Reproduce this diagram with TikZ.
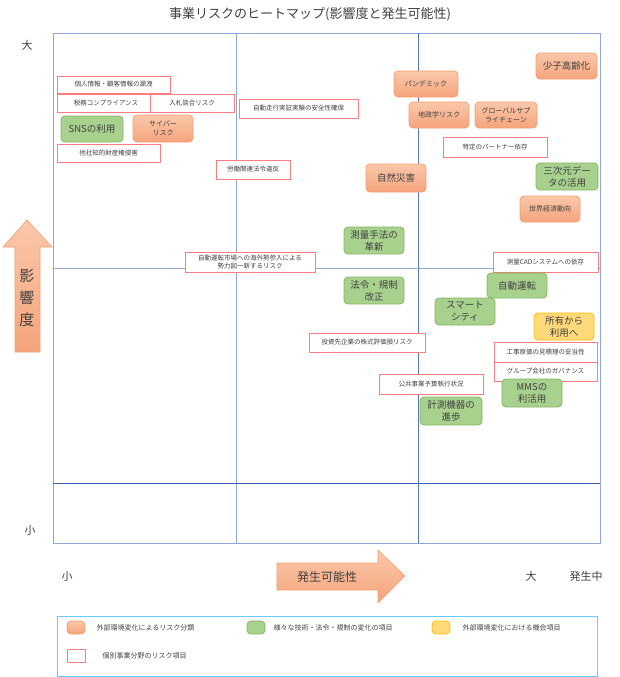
\documentclass[tikz,border=0pt]{standalone}
\usepackage{fontspec}
\setmainfont{Noto Sans CJK JP}

\definecolor{riskline}{HTML}{F4A070}
\definecolor{risktop}{HTML}{FAC8AA}
\definecolor{riskbot}{HTML}{F4A47C}
\definecolor{techline}{HTML}{82B65F}
\definecolor{techfill}{HTML}{A9D18E}
\definecolor{chanceline}{HTML}{FFC000}
\definecolor{chancefill}{HTML}{FFD97A}
\definecolor{itemline}{HTML}{FF7C80}
\definecolor{gridline}{HTML}{8FA8D6}
\definecolor{gridmid}{HTML}{5677BE}
\definecolor{griddark}{HTML}{3A62B0}
\definecolor{legline}{HTML}{66CCFF}
\definecolor{txt}{HTML}{404040}

\tikzset{
  risk/.style={draw=riskline,line width=0.8pt,top color=risktop,bottom color=riskbot,rounded corners=4pt,align=center,inner sep=1pt,font=\fontsize{7}{9}\selectfont},
  tech/.style={draw=techline,line width=0.8pt,fill=techfill,rounded corners=4pt,align=center,inner sep=1pt,font=\fontsize{9.5}{12}\selectfont},
  chance/.style={draw=chanceline,line width=0.8pt,fill=chancefill,rounded corners=4pt,align=center,inner sep=1pt,font=\fontsize{9.5}{12}\selectfont},
  item/.style={draw=itemline,line width=0.8pt,fill=white,align=center,inner sep=1pt,font=\fontsize{6.5}{8}\selectfont},
  big/.style={font=\fontsize{9.5}{12}\selectfont},
  box60/.style={minimum width=60pt,minimum height=27pt},
  swatch/.style={minimum width=18pt,minimum height=13pt},
  keytext/.style={anchor=west,font=\fontsize{7}{9}\selectfont}
}

\begin{document}
\begin{tikzpicture}[x=1pt,y=-1pt,every node/.style={text=txt}]
\useasboundingbox (0,0) rectangle (619,677);

% title and axis words
\node[font=\fontsize{13}{15}\selectfont] (title) at (310,14) {事業リスクのヒートマップ(影響度と発生可能性)};
\node[font=\fontsize{11}{13}\selectfont] (ybig) at (27,45) {大};
\node[font=\fontsize{11}{13}\selectfont] (ysmall) at (30,530) {小};
\node[font=\fontsize{11}{13}\selectfont] (xsmall) at (67,576) {小};
\node[font=\fontsize{11}{13}\selectfont] (xbig) at (531,576) {大};
\node[font=\fontsize{11}{13}\selectfont] (xnow) at (586,576) {発生中};

% grid
\draw[gridline,line width=0.8pt] (53,33) rectangle (600,543);
\draw[gridline,line width=0.8pt] (236,33) -- (236,543);
\draw[gridmid,line width=0.9pt] (418,33) -- (418,543);
\draw[gridline,line width=0.8pt] (53,268) -- (600,268);
\draw[griddark,line width=1pt] (53,483) -- (600,483);

% axis arrows
\draw[riskline,line width=0.6pt,top color=risktop,bottom color=riskbot]
  (27,220) -- (52,247) -- (40,247) -- (40,352) -- (15,352) -- (15,247) -- (3,247) -- cycle;
\node[align=center,font=\fontsize{15}{22}\selectfont] (impact) at (27,298) {影\\響\\度};
\draw[riskline,line width=0.6pt,top color=risktop,bottom color=riskbot]
  (277,563) -- (378,563) -- (378,550) -- (405,576) -- (378,603) -- (378,590) -- (277,590) -- cycle;
\node[font=\fontsize{12}{14}\selectfont] (chance) at (327,577) {発生可能性};

% items
\node[risk,big,minimum width=61pt,minimum height=26pt] (shoushi) at (566.5,66) {少子高齢化};
\node[risk,minimum width=64pt,minimum height=26pt] (pandemic) at (426,84) {パンデミック};
\node[risk,minimum width=60pt,minimum height=26pt] (chisei) at (439,115) {地政学リスク};
\node[risk,minimum width=62pt,minimum height=26pt] (supply) at (506,115) {グローバルサプ\\ライチェーン};
\node[item,minimum width=104pt,minimum height=20pt] (partner) at (495,147) {特定のパートナー依存};
\node[risk,big,minimum width=60pt,minimum height=28pt] (saigai) at (396,178) {自然災害};
\node[tech,minimum width=62pt,minimum height=27pt] (sanji) at (567,176.5) {三次元デー\\タの活用};
\node[risk,minimum width=60pt,minimum height=26pt] (keizai) at (550,209) {世界経済動向};

\node[item,minimum width=113pt,minimum height=17pt] (kojin) at (113.5,84.5) {個人情報・顧客情報の漏洩};
\node[item,minimum width=98pt,minimum height=18pt] (zeimu) at (106,103) {税務コンプライアンス};
\node[item,minimum width=84pt,minimum height=18pt] (dango) at (192,103) {入札談合リスク};
\node[tech,minimum width=62pt,minimum height=26pt] (sns) at (92,129) {SNSの利用};
\node[risk,box60] (cyber) at (163,128.5) {サイバー\\リスク};
\node[item,minimum width=103pt,minimum height=18pt] (chizai) at (108.5,153) {他社知的財産権侵害};
\node[item,minimum width=119pt,minimum height=19pt] (jisso) at (298.5,108.5) {自動走行実証実験の安全性確保};
\node[item,minimum width=74pt,minimum height=19pt] (roudou) at (253,169.5) {労働関連法令違反};

\node[tech,box60] (sokuryo) at (374,240.5) {測量手法の\\革新};
\node[item,minimum width=130pt,minimum height=20pt] (sannyu) at (250,262) {自動運転市場への海外勢参入による\\勢力図一新するリスク};
\node[tech,box60] (hourei) at (374,290.5) {法令・規制\\改正};
\node[item,minimum width=105pt,minimum height=20pt] (cad) at (545.5,262) {測量CADシステムへの依存};
\node[tech,minimum width=60pt,minimum height=25pt] (jidou) at (517,285.5) {自動運転};
\node[tech,box60] (smart) at (465,311.5) {スマート\\シティ};
\node[chance,box60] (shoyu) at (564,326.5) {所有から\\利用へ};
\node[item,minimum width=116pt,minimum height=19pt] (kabushiki) at (367,342.5) {投資先企業の株式評価損リスク};
\node[item,minimum width=103pt,minimum height=20pt] (genka) at (545.5,352) {工事原価の見積理の妥当性};
\node[item,minimum width=103pt,minimum height=19pt] (group) at (545.5,371.5) {グループ会社のガバナンス};
\node[item,minimum width=104pt,minimum height=20pt] (yosan) at (431,384) {公共事業予算執行状況};
\node[tech,minimum width=60pt,minimum height=28pt] (mms) at (532,393) {MMSの\\利活用};
\node[tech,minimum width=62pt,minimum height=28pt] (keisoku) at (451,411) {計測機器の\\進歩};

% legend
\draw[legline,line width=0.8pt] (57,616) rectangle (597,676);
\node[risk,swatch] (keyrisk) at (76,627.5) {};
\node[keytext] (keyrisktext) at (93,627.5) {外部環境変化によるリスク分類};
\node[tech,swatch] (keytech) at (256,627.5) {};
\node[keytext] (keytechtext) at (270,627.5) {様々な技術・法令・規制の変化の項目};
\node[chance,swatch] (keychance) at (441,627.5) {};
\node[keytext] (keychancetext) at (459,627.5) {外部環境変化における機会項目};
\node[item,swatch] (keyitem) at (76,655.5) {};
\node[keytext] (keyitemtext) at (99,655.5) {個別事業分野のリスク項目};
\end{tikzpicture}
\end{document}
